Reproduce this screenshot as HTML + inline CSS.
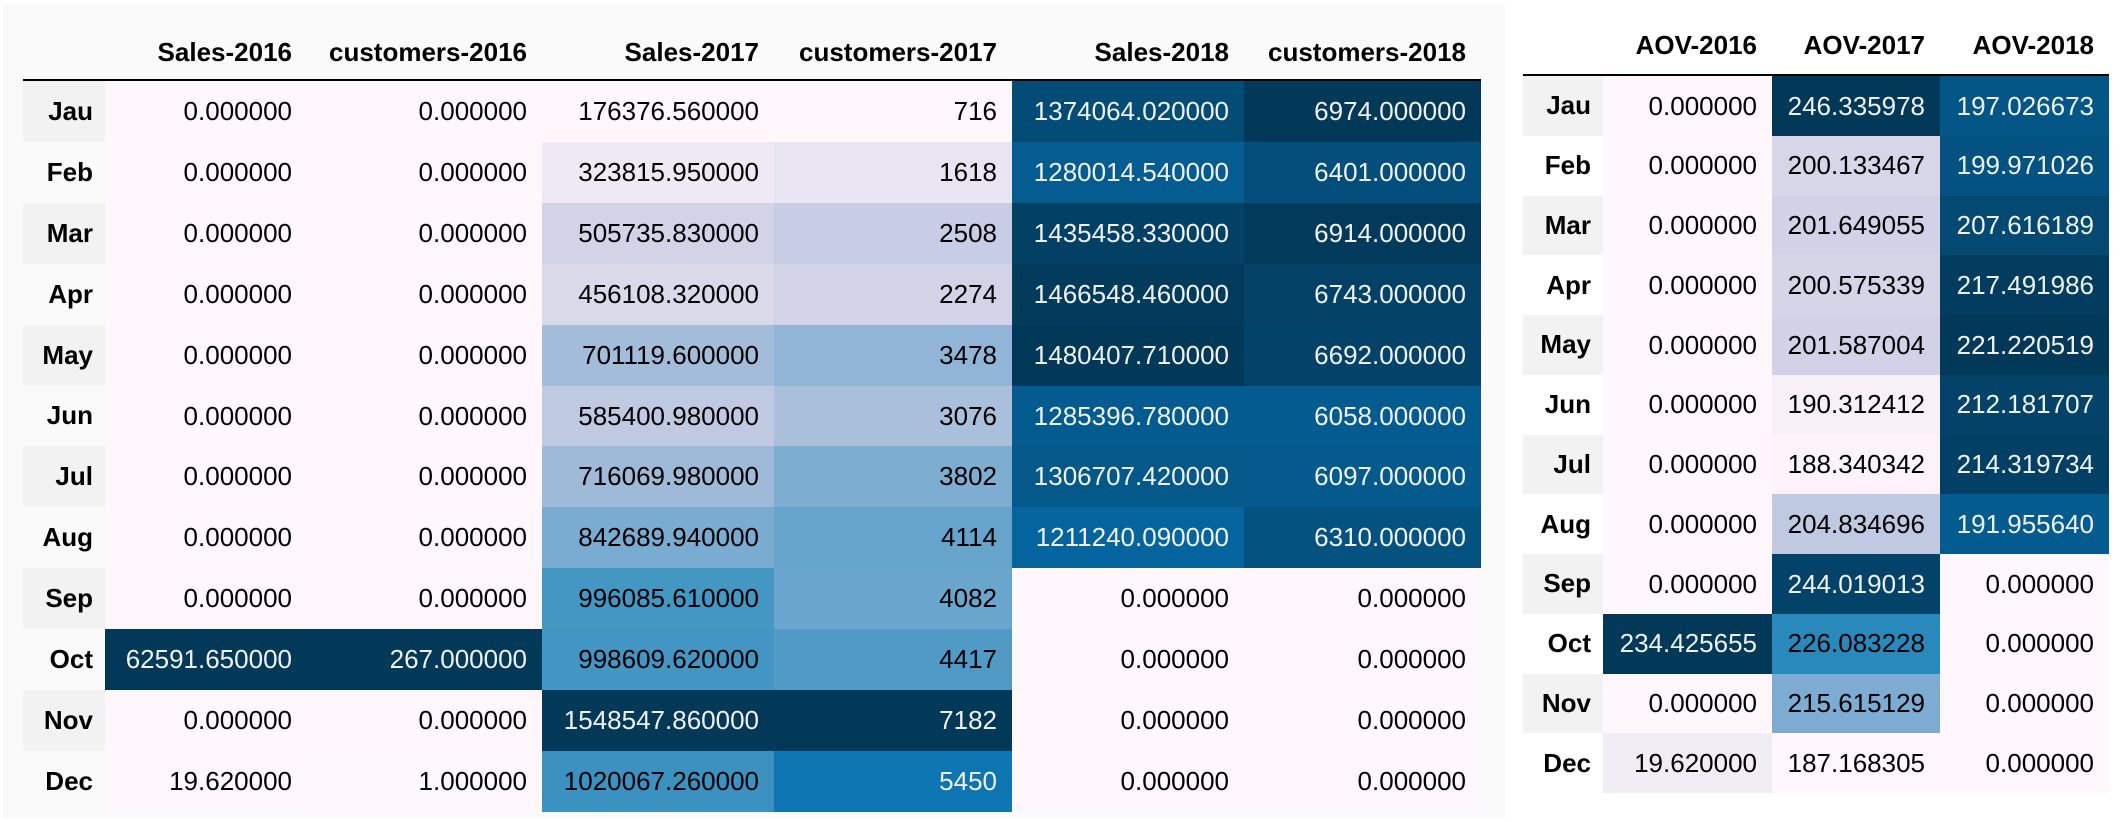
<!DOCTYPE html>
<html><head><meta charset="utf-8"><style>
html,body{margin:0;padding:0;background:#fff;width:2126px;height:822px;overflow:hidden;position:relative;font-family:"Liberation Sans",Arial,sans-serif}
.abs{position:absolute;box-sizing:border-box}
.cell{font-size:26px;text-align:right;padding-right:15px;display:flex;align-items:center;justify-content:flex-end;white-space:nowrap}
.hdr{font-size:26px;font-weight:bold;text-align:right;padding-right:15px;white-space:nowrap;color:#000}
.idx{font-size:26px;font-weight:bold;display:flex;align-items:center;justify-content:flex-end;padding-right:12px;color:#000}
</style></head><body>
<div class="abs" style="left:3px;top:3px;width:1502px;height:815px;background:#fafafa"></div>
<div id="root"></div>
<script>
const months = ["Jau","Feb","Mar","Apr","May","Jun","Jul","Aug","Sep","Oct","Nov","Dec"];
const leftHeaders = ["Sales-2016","customers-2016","Sales-2017","customers-2017","Sales-2018","customers-2018"];
const sales2016 = [0,0,0,0,0,0,0,0,0,62591.65,0,19.62];
const customers2016 = [0,0,0,0,0,0,0,0,0,267,0,1];
const sales2017 = [176376.56,323815.95,505735.83,456108.32,701119.6,585400.98,716069.98,842689.94,996085.61,998609.62,1548547.86,1020067.26];
const customers2017 = [716,1618,2508,2274,3478,3076,3802,4114,4082,4417,7182,5450];
const sales2018 = [1374064.02,1280014.54,1435458.33,1466548.46,1480407.71,1285396.78,1306707.42,1211240.09,0,0,0,0];
const customers2018 = [6974,6401,6914,6743,6692,6058,6097,6310,0,0,0,0];
const rightHeaders = ["AOV-2016","AOV-2017","AOV-2018"];
const aov2016 = [0,0,0,0,0,0,0,0,0,234.425655,0,19.62];
const aov2017 = [246.335978,200.133467,201.649055,200.575339,201.587004,190.312412,188.340342,204.834696,244.019013,226.083228,215.615129,187.168305];
const aov2018 = [197.026673,199.971026,207.616189,217.491986,221.220519,212.181707,214.319734,191.955640,0,0,0,0];

const stops = ["#fff7fb","#ece7f2","#d0d1e6","#a6bddb","#74a9cf","#3690c0","#0570b0","#045a8d","#023858"].map(h=>[parseInt(h.substr(1,2),16),parseInt(h.substr(3,2),16),parseInt(h.substr(5,2),16)]);
function pubu(t){t=Math.max(0,Math.min(1,t));const p=t*(stops.length-1);const i=Math.min(stops.length-2,Math.floor(p));const f=p-i;return stops[i].map((c,k)=>Math.round(c+(stops[i+1][k]-c)*f));}
function lum(rgb){const c=rgb.map(v=>{v/=255;return v<=0.03928?v/12.92:Math.pow((v+0.055)/1.055,2.4)});return 0.2126*c[0]+0.7152*c[1]+0.0722*c[2];}
const root=document.getElementById('root');
function div(cls,style,text){const d=document.createElement('div');d.className='abs '+cls;d.setAttribute('style',style);if(text!==undefined)d.textContent=text;root.appendChild(d);return d;}

function table(name,edges,top,rh,hdrY,lineY,headers,cols,fmts){
  const line=div('', `left:${edges[0]}px;top:${lineY}px;width:${edges[edges.length-1]-edges[0]}px;height:2px;background:#000`);
  
  
  headers.forEach((h,j)=>{
    const d=div('hdr',`left:${edges[j+1]}px;top:${hdrY-15}px;width:${edges[j+2]-edges[j+1]}px;height:30px;line-height:30px`,h);
    
    
  });
  months.forEach((m,i)=>{
    const y=top+i*rh;
    const ix=div('idx',`left:${edges[0]}px;top:${y}px;width:${edges[1]-edges[0]}px;height:${rh}px;background:${i%2===0?'#f2f2f2':'transparent'}`,m);
    
    
  });
  cols.forEach((col,j)=>{
    const mn=Math.min(...col),mx=Math.max(...col);
    col.forEach((v,i)=>{
      const rgb=pubu(mx>mn?(v-mn)/(mx-mn):0);
      const txt=lum(rgb)<0.2?'#f1f1f1':'#000';
      const c=div('cell',`left:${edges[j+1]}px;top:${top+i*rh}px;width:${edges[j+2]-edges[j+1]}px;height:${Math.ceil(rh)}px;background:rgb(${rgb.join(',')});color:${txt}`,fmts[j](v));
      
      
    });
  });
}
const f6=v=>v.toFixed(6), fi=v=>String(Math.round(v));
table('left',[23,105,307,542,774,1012,1244,1481],81,60.9,52,79,leftHeaders,
  [sales2016,customers2016,sales2017,customers2017,sales2018,customers2018],[f6,f6,f6,fi,f6,f6]);
table('right',[1523,1603,1772,1940,2109],76,59.75,45,74,rightHeaders,
  [aov2016,aov2017,aov2018],[f6,f6,f6]);
</script>
</body></html>
